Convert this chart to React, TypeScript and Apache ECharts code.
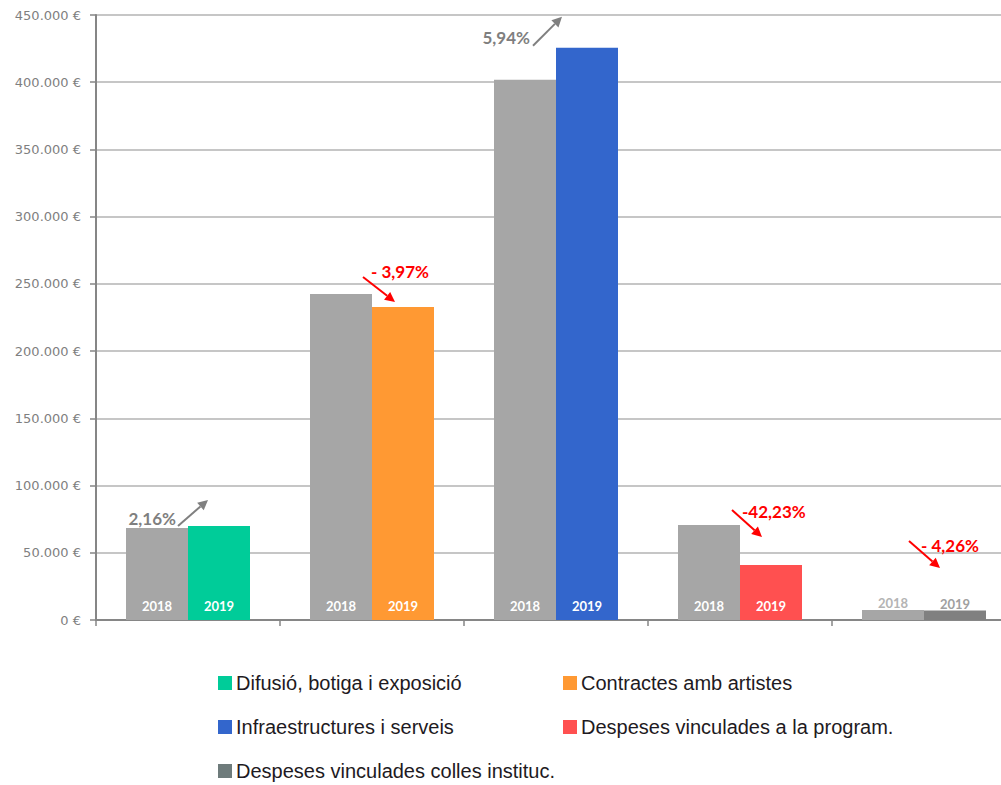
import React, { useEffect, useRef } from "react";
import * as echarts from "echarts";

const categories = [
  "Difusió, botiga i exposició",
  "Contractes amb artistes",
  "Infraestructures i serveis",
  "Despeses vinculades a la program.",
  "Despeses vinculades colles instituc.",
];
const values2018 = [68500, 242500, 401800, 70700, 7440];
const values2019 = [69980, 232870, 425670, 40840, 7120];
const changeLabels = ["2,16%", "- 3,97%", "5,94%", "-42,23%", "- 4,26%"];
const changeUp = [true, false, true, false, false];
const yearLabels = ["2018", "2019"];
const yTickMax = 450000;
const yTickStep = 50000;

const colors2019 = ["#00CC99", "#FF9933", "#3366CC", "#FF5050", "#808080"];
const legendColors = ["#00CC99", "#FF9933", "#3366CC", "#FF5050", "#6E7B7B"];
const gray2018 = "#A6A6A6";

// annotation layout relative to category centre (dx) and 2018 bar top (dy)
const annoLayout = [
  { arrow: [-10, -2, 20, -28], text: [-12, -9], align: "right" },
  { arrow: [-9, -17, 23, 8], text: [-1, -22], align: "left" },
  { arrow: [-23, -34, 6, -63], text: [-26, -42], align: "right" },
  { arrow: [-8, -15, 22, 12], text: [2, -13], align: "left" },
  { arrow: [-15, -69, 16, -42], text: [-3, -64], align: "left" },
];

const fmt = (v: number) =>
  String(v).replace(/\B(?=(\d{3})+(?!\d))/g, ".") + " €";

export default function App() {
  const ref = useRef<HTMLDivElement>(null);
  useEffect(() => {
    if (!ref.current) return;
    const chart = echarts.init(ref.current, undefined, { renderer: "svg" });
    const barLabel = {
      show: true,
      position: "insideBottom",
      distance: 8,
      color: "#ffffff",
      fontFamily: "Lato",
      fontWeight: "bold",
      fontSize: 13,
    };
    chart.setOption({
      animation: false,
      backgroundColor: "#ffffff",
      grid: { left: 96, top: 15, bottom: 165, right: 0 },
      xAxis: {
        type: "category",
        data: categories,
        axisLine: { lineStyle: { color: "#868686", width: 2 } },
        axisTick: { show: true, interval: 0, length: 6, lineStyle: { color: "#868686", width: 1.5 } },
        axisLabel: { show: false, interval: 0 },
      },
      yAxis: {
        type: "value",
        min: 0,
        max: yTickMax,
        interval: yTickStep,
        axisLine: { show: true, lineStyle: { color: "#868686", width: 2 } },
        axisTick: { show: true, length: 6, lineStyle: { color: "#868686", width: 1.5 } },
        splitLine: { lineStyle: { color: "#B3B3B3", width: 1.5 } },
        axisLabel: {
          formatter: fmt,
          color: "#7F7F7F",
          fontFamily: "DejaVu Sans",
          fontSize: 13,
          margin: 15,
        },
      },
      series: [
        {
          type: "bar",
          name: yearLabels[0],
          barWidth: 62,
          barGap: "0%",
          data: values2018.map((v, i) => ({
            value: v,
            itemStyle: { color: gray2018 },
            label: i === 4 ? { color: "#B4B4B4", position: "top", distance: 0, fontWeight: "bold" } : undefined,
          })),
          label: { ...barLabel, formatter: () => yearLabels[0] },
        },
        {
          type: "bar",
          name: yearLabels[1],
          barWidth: 62,
          barGap: "0%",
          data: values2019.map((v, i) => ({
            value: v,
            itemStyle: { color: colors2019[i] },
            label: i === 4 ? { color: "#A0A0A0", position: "top", distance: 0, fontWeight: "bold" } : undefined,
          })),
          label: { ...barLabel, formatter: () => yearLabels[1] },
        },
      ],
    });

    const graphics: any[] = [];
    categories.forEach((_, i) => {
      const p = chart.convertToPixel({ xAxisIndex: 0, yAxisIndex: 0 }, [i, values2018[i]]) as number[];
      const cx = p[0];
      const top = p[1];
      const L = annoLayout[i];
      const col = changeUp[i] ? "#808080" : "#FF0000";
      const x1 = cx + L.arrow[0], y1 = top + L.arrow[1];
      const x2 = cx + L.arrow[2], y2 = top + L.arrow[3];
      const dx = x2 - x1, dy = y2 - y1;
      const len = Math.sqrt(dx * dx + dy * dy);
      const ux = dx / len, uy = dy / len;
      const hl = 10, hw = 5;
      const bx = x2 - ux * hl, by = y2 - uy * hl;
      graphics.push({
        type: "line",
        shape: { x1, y1, x2: bx, y2: by },
        style: { stroke: col, lineWidth: 2 },
      });
      graphics.push({
        type: "polygon",
        shape: {
          points: [
            [x2, y2],
            [bx - uy * hw, by + ux * hw],
            [bx + uy * hw, by - ux * hw],
          ],
        },
        style: { fill: col },
      });
      graphics.push({
        type: "text",
        style: {
          text: changeLabels[i],
          x: cx + L.text[0],
          y: top + L.text[1],
          align: L.align,
          verticalAlign: "middle",
          fill: changeUp[i] ? "#7F7F7F" : "#FF0000",
          fontFamily: "Lato",
          fontWeight: "bold",
          fontSize: 17,
        },
      });
    });

    // legend
    const legendPos = [
      [218, 683],
      [563, 683],
      [218, 727],
      [563, 727],
      [218, 771],
    ];
    categories.forEach((name, i) => {
      const [lx, ly] = legendPos[i];
      graphics.push({
        type: "rect",
        shape: { x: lx, y: ly - 7, width: 14, height: 14 },
        style: { fill: legendColors[i] },
      });
      graphics.push({
        type: "text",
        style: {
          text: name,
          x: lx + 18,
          y: ly,
          verticalAlign: "middle",
          fill: "#1E1A22",
          fontFamily: "Liberation Sans",
          fontSize: 20,
        },
      });
    });
    chart.setOption({ graphic: graphics });

    return () => chart.dispose();
  }, []);
  return (
    <div style={{ position: "fixed", left: 0, top: 0, width: 1001, height: 785, overflow: "hidden" }}>
      <div ref={ref} style={{ width: 1016, height: 785 }} />
    </div>
  );
}
